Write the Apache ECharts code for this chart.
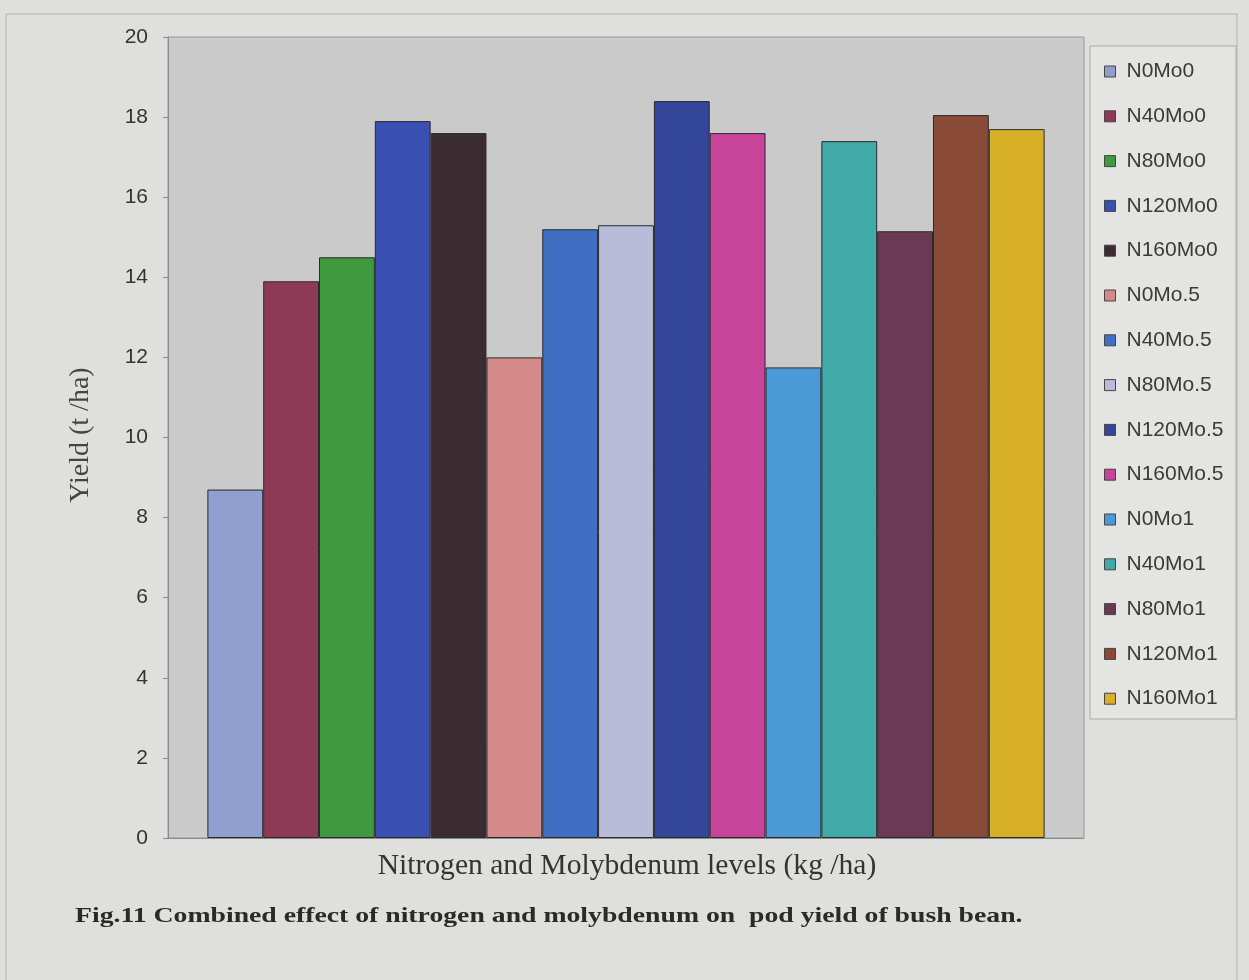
<!DOCTYPE html>
<html><head><meta charset="utf-8">
<script src="https://cdn.jsdelivr.net/npm/echarts@6/dist/echarts.min.js"></script>
<style>html,body{margin:0;padding:0;background:#dfdfdd;}#c{width:1249px;height:980px;}</style>
</head><body><div id="c"></div>
<script>
const seriesNames = ['N0Mo0','N40Mo0','N80Mo0','N120Mo0','N160Mo0','N0Mo.5','N40Mo.5','N80Mo.5','N120Mo.5','N160Mo.5','N0Mo1','N40Mo1','N80Mo1','N120Mo1','N160Mo1'];
const seriesValues = [8.7,13.9,14.5,17.9,17.6,12.0,15.2,15.3,18.4,17.6,11.75,17.4,15.15,18.05,17.7];
const seriesColors = ['#8e9fd0','#8e3a57','#3f9a3f','#3a4fb2','#3a2c30','#d48a88','#3f6ec2','#b8bcd8','#34469a','#c8439a','#4a9ad8','#40aaa8','#6a3a55','#8a4a38','#d8b028'];
const yTicks = [0,2,4,6,8,10,12,14,16,18,20];
const categories = [''];

const chart = echarts.init(document.getElementById('c'), null, {renderer:'canvas'});
const series = seriesNames.map((n,i)=>({
  name:n, type:'bar', data:[seriesValues[i]],
  barGap:'0%', barCategoryGap:'8.6%',
  itemStyle:{color:seriesColors[i], borderColor:'#2a2a2a', borderWidth:1},
  emphasis:{disabled:true}
}));
chart.setOption({
  animation:false,
  backgroundColor:'#dfdfdd',
  graphic:[
    {type:'rect', shape:{x:6,y:14,width:1231,height:990}, style:{fill:'none', stroke:'#b0b0b0', lineWidth:1}, z:-10},
    {type:'rect', shape:{x:168,y:37,width:916,height:801}, style:{fill:'#cacaca', stroke:'#9a9a9a', lineWidth:1}, z:-5},
    {type:'rect', shape:{x:1090,y:46,width:146,height:673}, style:{fill:'#e4e4e2', stroke:'#a8a8a8', lineWidth:1}, z:-5},
    {type:'text', x:75, y:906, scaleX:1.32, style:{text:'Fig.11 Combined effect of nitrogen and molybdenum on  pod yield of bush bean.', font:'bold 21px "Liberation Serif"', fill:'#2a2a2a'}},
    {type:'text', x:627, y:866, scaleX:1.02, style:{text:'Nitrogen and Molybdenum levels (kg /ha)', font:'29px "Liberation Serif"', fill:'#333', align:'center', verticalAlign:'middle'}},
    {type:'text', x:81, y:435, rotation:Math.PI/2, style:{text:'Yield (t /ha)', font:'28px "Liberation Serif"', fill:'#444', align:'center', verticalAlign:'middle'}}
  ],
  grid:{left:168, right:165, top:37, bottom:142, containLabel:false},
  legend:{
    orient:'vertical', left:1099, top:56, itemGap:23.8, itemWidth:11, itemHeight:11,
    icon:'rect',
    textStyle:{fontFamily:'Liberation Sans', fontSize:21, color:'#3a3a3a', padding:[0,0,0,6]},
    itemStyle:{borderColor:'#444', borderWidth:1},
    data:seriesNames
  },
  xAxis:{
    type:'category', data:categories,
    axisLine:{lineStyle:{color:'#8a8a8a'}}, axisTick:{show:false}, axisLabel:{show:false}
  },
  yAxis:{
    type:'value', min:0, max:20, interval:2,
    axisLine:{show:true, lineStyle:{color:'#8a8a8a'}},
    axisTick:{show:true, length:5, lineStyle:{color:'#8a8a8a'}},
    axisLabel:{fontFamily:'Liberation Sans', fontSize:21, color:'#333', margin:20,
      formatter:(v)=> yTicks.includes(v)? String(v):''},
    splitLine:{show:false}
  },
  series
});
</script></body></html>
